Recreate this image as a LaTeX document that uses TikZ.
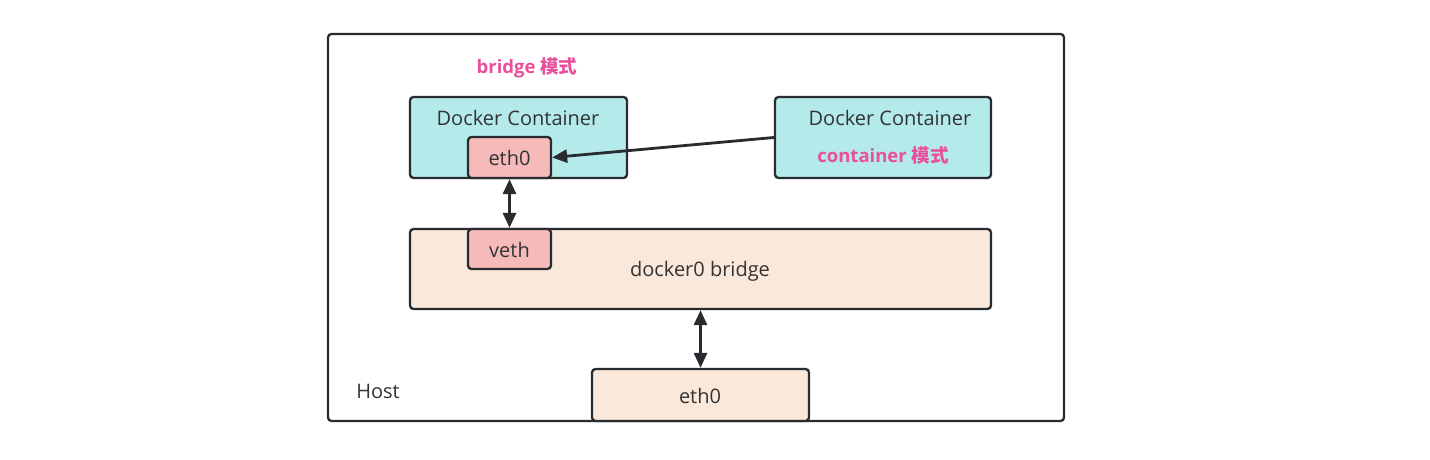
\documentclass[tikz,border=0pt]{standalone}
\usepackage{fontspec}
\setmainfont{Open Sans}
\newfontfamily\cjk{Noto Sans CJK SC}
\usetikzlibrary{arrows.meta}
\definecolor{cyanfill}{RGB}{180,234,234}
\definecolor{pinkfill}{RGB}{245,186,185}
\definecolor{peachfill}{RGB}{250,232,218}
\definecolor{edge}{RGB}{40,44,48}
\definecolor{txt}{RGB}{51,51,51}
\definecolor{magent}{RGB}{233,80,155}
\tikzset{
  x=1pt, y=-1pt,
  box/.style={draw=edge, line width=2.3pt, rounded corners=3.5pt, inner sep=0pt},
  lbl/.style={text=txt, font=\fontsize{20}{24}\selectfont, inner sep=0pt},
  mode/.style={text=magent, font=\fontsize{18.5}{22}\selectfont\bfseries, inner sep=0pt},
  conn/.style={draw=edge, line width=2.8pt, -{Triangle[length=15pt,width=13pt]}},
  dconn/.style={draw=edge, line width=2.8pt, {Triangle[length=15pt,width=13pt]}-{Triangle[length=15pt,width=13pt]}}
}
\begin{document}
\begin{tikzpicture}
\useasboundingbox[fill=white] (0,0) rectangle (1430,460);
\node[box, fill=white, minimum width=736pt, minimum height=387pt] (host) at (696,227.5) {};
\node[box, fill=peachfill, minimum width=581pt, minimum height=80pt] (br) at (700.5,269) {};
\node[box, fill=pinkfill, minimum width=83pt, minimum height=40pt] (veth) at (509.5,249) {};
\node[box, fill=cyanfill, minimum width=217pt, minimum height=81pt] (lc) at (518.5,137.5) {};
\node[box, fill=pinkfill, minimum width=83pt, minimum height=41pt] (eth) at (509.5,157.5) {};
\node[box, fill=cyanfill, minimum width=216pt, minimum height=81pt] (rc) at (883,137.5) {};
\node[box, fill=peachfill, minimum width=217pt, minimum height=52pt] (heth) at (700.5,395) {};
\node[lbl] (hostlbl) at (378,391) {Host};
\node[mode] (bmode) at (527,68) {bridge {\cjk\bfseries 模式}};
\node[lbl] (lctext) at (518,118) {Docker Container};
\node[lbl] (ethtext) at (509.5,158) {eth0};
\node[lbl] (rctext) at (890,118) {Docker Container};
\node[mode] (cmode) at (883,155) {container {\cjk\bfseries 模式}};
\node[lbl] (vethtext) at (509.5,250) {veth};
\node[lbl] (brtext) at (700,271) {docker0 bridge};
\node[lbl] (hethtext) at (700,396) {eth0};
\draw[conn] (rc.west) -- (eth.east);
\draw[dconn] (eth.south) -- (veth.north);
\draw[dconn] (br.south) -- (heth.north);
\end{tikzpicture}
\end{document}
